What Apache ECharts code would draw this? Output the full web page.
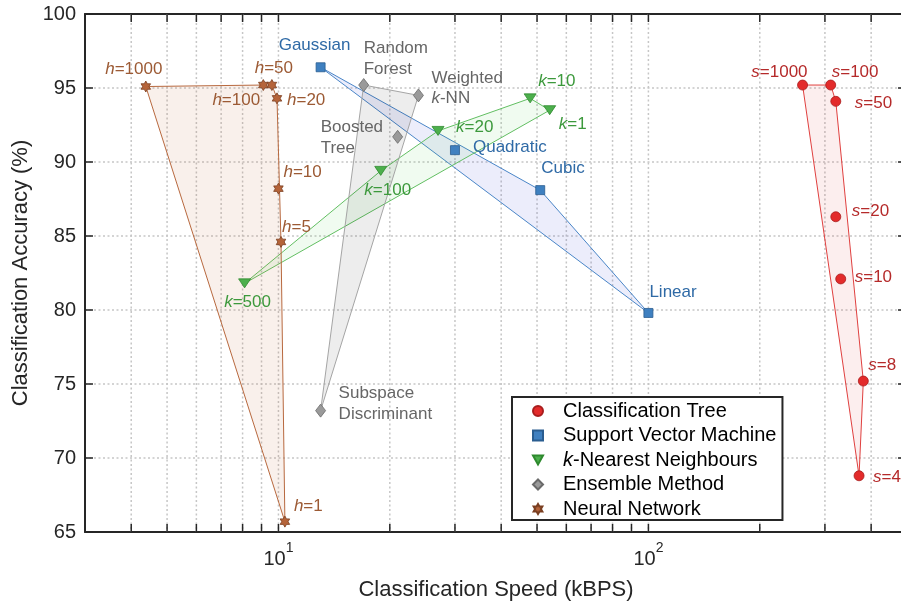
<!DOCTYPE html>
<html><head><meta charset="utf-8">
<script src="https://cdn.jsdelivr.net/npm/echarts@6/dist/echarts.min.js"></script>
<style>html,body{margin:0;padding:0;background:#fff}#c{width:901px;height:602px}</style>
</head><body><div id="c"></div><script>
// ---------------- data ----------------
const treeLabels = ['1000','100','50','20','10','8','4'];
const treeSpeed  = [261, 311, 321, 321, 331, 381, 371];
const treeAcc    = [95.2, 95.2, 94.1, 86.3, 82.1, 75.2, 68.8];

const svmLabels = ['Gaussian','Quadratic','Cubic','Linear'];
const svmSpeed  = [13.0, 30.0, 51.0, 100];
const svmAcc    = [96.4, 90.8, 88.1, 79.8];

const knnLabels = ['10','1','20','100','500'];
const knnSpeed  = [47.9, 54.1, 27.0, 18.9, 8.1];
const knnAcc    = [94.3, 93.5, 92.1, 89.4, 81.8];

const ensLabels = ['Random\nForest','Weighted\nk-NN','Boosted\nTree','Subspace\nDiscriminant'];
const ensSpeed  = [17.0, 23.9, 21.0, 13.0];
const ensAcc    = [95.2, 94.5, 91.7, 73.2];

const nnLabels = ['1000','100','50','20','10','5','1'];
const nnSpeed  = [4.38, 9.10, 9.60, 9.91, 10.0, 10.16, 10.41];
const nnAcc    = [95.1, 95.2, 95.2, 94.3, 88.2, 84.6, 65.7];

const seriesNames = ['Classification Tree','Support Vector Machine','k-Nearest Neighbours','Ensemble Method','Neural Network'];
const xMin = 3, xMax = 500, yMin = 65, yMax = 100, yStep = 5;
const xGridValues = [4,5,6,7,8,9,10,20,30,40,50,60,70,80,90,100,200,300,400];

// ---------------- label placement (style) ----------------
const treeLabelPos = [['right',5,-13],['left',1,-13],['left',19,2],['left',16,-5],['left',14,-2],['left',5,-16],['left',14,2]];
const svmLabelPos  = [['center',-6,-22],['left',18,-3],['left',1,-22],['left',1,-21]];
const knnLabelPos  = [['left',8,-17],['left',9,14],['left',18,-4],['center',7,19],['center',3,19]];
const ensLabelPos  = [['left',0,-26],['left',13,-7],['left',-77,1],['left',18,-7]];
const nnLabelPos   = [['center',-12,-17],['center',-27,15],['center',2,-17],['left',10,2],['left',5,-16],['left',1,-15],['left',9,-15]];

const FONT = 'Liberation Sans, Arial, Helvetica, sans-serif';
const STAR = 'path://M5,0 L6.443,2.5 L9.33,2.5 L7.887,5 L9.33,7.5 L6.443,7.5 L5,10 L3.557,7.5 L0.67,7.5 L2.113,5 L0.67,2.5 L3.557,2.5 Z';
const TRI_DOWN = 'path://M0,0 L10,0 L5,9 Z';

const groups = [
  {name: seriesNames[0], xs: treeSpeed, ys: treeAcc, labels: treeLabels, pos: treeLabelPos, prefix: 's',
   symbol: 'circle', size: 10, fill: '#e32b2b', edge: '#a81d1d', line: '#e0403f', area: 'rgba(220,40,40,0.08)', text: '#b52a2a'},
  {name: seriesNames[1], xs: svmSpeed, ys: svmAcc, labels: svmLabels, pos: svmLabelPos, prefix: null,
   symbol: 'rect', size: 9, fill: '#3f80c0', edge: '#2a5d90', line: '#4a86c8', area: 'rgba(70,80,220,0.10)', text: '#2f6aa6'},
  {name: seriesNames[2], xs: knnSpeed, ys: knnAcc, labels: knnLabels, pos: knnLabelPos, prefix: 'k',
   symbol: TRI_DOWN, size: [12, 10], fill: '#4caf4c', edge: '#2e8a2e', line: '#62bf62', area: 'rgba(60,200,60,0.08)', text: '#3c993c'},
  {name: seriesNames[3], xs: ensSpeed, ys: ensAcc, labels: ensLabels, pos: ensLabelPos, prefix: null,
   symbol: 'diamond', size: [10, 13], fill: '#9a9a9a', edge: '#6a6a6a', line: '#a5a5a5', area: 'rgba(0,0,0,0.07)', text: '#666666'},
  {name: seriesNames[4], xs: nnSpeed, ys: nnAcc, labels: nnLabels, pos: nnLabelPos, prefix: 'h',
   symbol: STAR, size: 11, fill: '#b5643a', edge: '#7a3e20', line: '#b8693f', area: 'rgba(200,110,60,0.10)', text: '#9c5a34'}
];

function hull(pts) {
  const p = pts.slice().sort((a, b) => a[0] - b[0] || a[1] - b[1]);
  const cross = (o, a, b) => (a[0] - o[0]) * (b[1] - o[1]) - (a[1] - o[1]) * (b[0] - o[0]);
  const lo = [], up = [];
  for (const q of p) { while (lo.length >= 2 && cross(lo[lo.length - 2], lo[lo.length - 1], q) <= 0) lo.pop(); lo.push(q); }
  for (let i = p.length - 1; i >= 0; i--) { const q = p[i]; while (up.length >= 2 && cross(up[up.length - 2], up[up.length - 1], q) <= 0) up.pop(); up.push(q); }
  up.pop(); lo.pop();
  return lo.concat(up);
}

const series = [];
// vertical dotted grid
series.push({
  type: 'custom', z: 1, silent: true, xAxisIndex: 0, yAxisIndex: 0,
  data: xGridValues.map(v => [v, yMin]),
  renderItem: (params, api) => {
    const v = api.value(0);
    const a = api.coord([v, yMax]), b = api.coord([v, yMin]);
    return {type: 'line', shape: {x1: a[0], y1: a[1], x2: b[0], y2: b[1]},
      style: {stroke: '#c6c6c6', lineWidth: 1.5, lineDash: [2, 2.5]}};
  }
});
// polygons
groups.forEach(g => {
  series.push({
    type: 'custom', z: 2, silent: true,
    data: [[g.xs[0], g.ys[0]]],
    renderItem: (params, api) => {
      const pts = g.xs.map((x, i) => api.coord([x, g.ys[i]]));
      return {type: 'polygon', shape: {points: hull(pts)},
        style: {fill: g.area, stroke: g.line, lineWidth: 1}};
    }
  });
});
// markers
groups.forEach(g => {
  series.push({
    name: g.name, type: 'scatter', z: 4,
    symbol: g.symbol, symbolSize: g.size, symbolKeepAspect: true,
    itemStyle: {color: g.fill, borderColor: g.edge, borderWidth: 0.8, opacity: 1},
    label: {
      show: true, position: 'inside', verticalAlign: 'middle',
      fontFamily: FONT, fontSize: 17, lineHeight: 20.5, color: g.text,
      formatter: p => {
        const t = g.labels[p.dataIndex];
        if (g.prefix) return '{i|' + g.prefix + '}=' + t;
        return t.replace('k-NN', '{i|k}-NN');
      },
      rich: {i: {fontStyle: 'italic', fontFamily: FONT, fontSize: 17, lineHeight: 20.5, color: g.text}}
    },
    emphasis: {disabled: true},
    data: g.xs.map((x, i) => ({
      value: [x, g.ys[i]],
      label: {align: g.pos[i][0], offset: [g.pos[i][1], g.pos[i][2]]}
    }))
  });
});
// minor + major ticks on top and bottom
series.push({
  type: 'custom', z: 6, silent: true,
  data: xGridValues.map(v => [v, yMin]),
  renderItem: (params, api) => {
    const v = api.value(0);
    const a = api.coord([v, yMax]), b = api.coord([v, yMin]);
    const st = {stroke: '#262626', lineWidth: 1.5};
    return {type: 'group', children: [
      {type: 'line', shape: {x1: b[0], y1: b[1], x2: b[0], y2: b[1] - 8}, style: st},
      {type: 'line', shape: {x1: a[0], y1: a[1], x2: a[0], y2: a[1] + 8}, style: st}
    ]};
  }
});

const axisLineStyle = {show: true, lineStyle: {color: '#262626', width: 2}};
const chart = echarts.init(document.getElementById('c'), null, {renderer: 'canvas'});
chart.setOption({
  animation: false,
  backgroundColor: '#ffffff',
  textStyle: {fontFamily: FONT},
  grid: {left: 85, top: 14, width: 822, height: 518, containLabel: false, outerBoundsMode: 'none'},
  xAxis: [{
    type: 'log', logBase: 10, min: xMin, max: xMax, position: 'bottom',
    name: 'Classification Speed (kBPS)', nameLocation: 'middle', nameGap: 47,
    nameTextStyle: {fontSize: 22, color: '#262626', fontFamily: FONT},
    axisLine: axisLineStyle, axisTick: {show: false}, splitLine: {show: false},
    axisLabel: {
      showMinLabel: false, showMaxLabel: false, margin: 9, color: '#262626',
      formatter: v => '{b|10}{s|' + Math.round(Math.log10(v)) + '}',
      rich: {b: {fontSize: 20, fontFamily: FONT, color: '#262626', verticalAlign: 'bottom', lineHeight: 28},
             s: {fontSize: 14, fontFamily: FONT, color: '#262626', verticalAlign: 'top', lineHeight: 28}}
    }
  }, {
    type: 'log', logBase: 10, min: xMin, max: xMax, position: 'top',
    axisLine: axisLineStyle, axisTick: {show: false}, axisLabel: {show: false}, splitLine: {show: false}
  }],
  yAxis: [{
    type: 'value', min: yMin, max: yMax, interval: yStep, position: 'left',
    name: 'Classification Accuracy (%)', nameLocation: 'middle', nameGap: 52,
    nameTextStyle: {fontSize: 22, color: '#262626', fontFamily: FONT},
    axisLine: axisLineStyle,
    axisTick: {show: true, inside: true, length: 8, lineStyle: {color: '#262626', width: 1.5}},
    axisLabel: {fontSize: 20, color: '#262626', margin: 9, fontFamily: FONT},
    splitLine: {show: true, lineStyle: {color: '#c6c6c6', width: 1.5, type: [2, 2.5]}}
  }, {
    type: 'value', min: yMin, max: yMax, interval: yStep, position: 'right',
    axisLine: axisLineStyle,
    axisTick: {show: true, inside: true, length: 9, lineStyle: {color: '#262626', width: 1.5}},
    axisLabel: {show: false}, splitLine: {show: false}
  }],
  legend: {
    data: seriesNames, orient: 'vertical', left: 512, top: 397,
    padding: [4, 6, 1, 20], itemGap: 4.5, itemWidth: 10, itemHeight: 10,
    backgroundColor: '#ffffff', borderColor: '#262626', borderWidth: 2, borderRadius: 0,
    textStyle: {fontSize: 20, color: '#000000', fontFamily: FONT, lineHeight: 18, padding: [0, 0, 0, 15],
      rich: {i: {fontStyle: 'italic', fontSize: 20, fontFamily: FONT, color: '#000000', lineHeight: 18}}},
    formatter: n => n.replace(/^k-/, '{i|k}-'),
    selectedMode: false, z: 10
  },
  series: series
});
</script></body></html>
